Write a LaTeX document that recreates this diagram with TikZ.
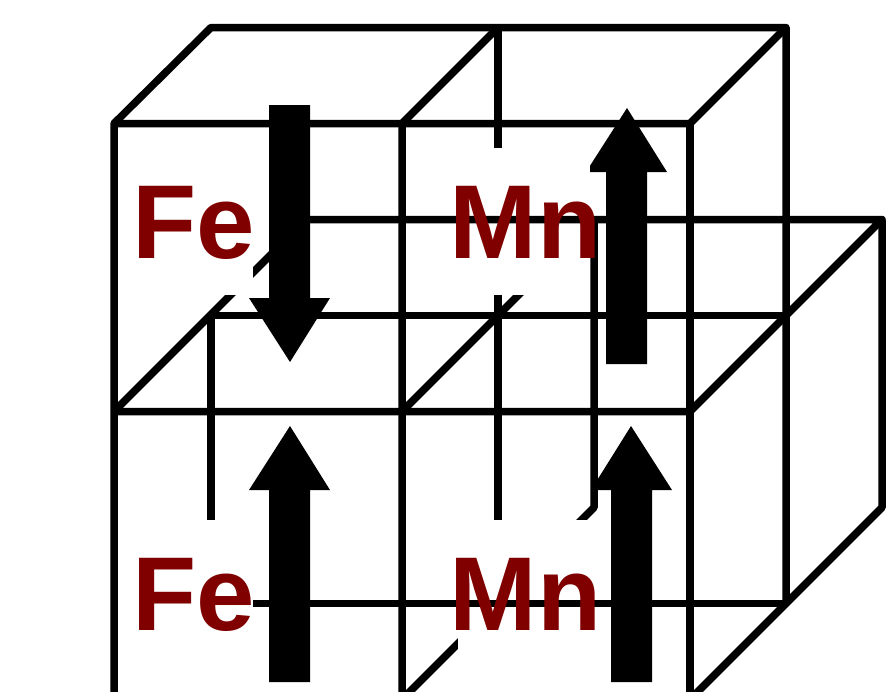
\documentclass[tikz,border=0pt]{standalone}
\usepackage{fontspec}
\setmainfont{Liberation Sans}
\definecolor{atomred}{HTML}{800000}
\tikzset{
  edge/.style={draw=black,line width=7.5pt,line cap=butt,line join=round,yshift=-0.5pt},
  spin/.style={fill=black,draw=none},
  halo/.style={fill=white,draw=none},
  atom/.style={text=atomred,font=\fontsize{105}{105}\selectfont\bfseries,inner sep=0pt,anchor=base west}
}
\begin{document}
\begin{tikzpicture}[x=1pt,y=-1pt]
\useasboundingbox (0,0) rectangle (891,691);
\begin{scope}
\clip (0,0) rectangle (891,691);
% hidden back lines
\draw[edge] (498,27) -- (498,520);
\draw[edge] (211,520) -- (211,315);
\draw[edge] (594,219) -- (594,507) -- (402,699);
\draw[edge] (690,699) -- (882,507) -- (882,219);
\draw[edge] (594,219) -- (402,411);
\draw[edge] (306,219) -- (114,411);
% spin arrows
\fill[spin] (269,105) -- (310,105) -- (310,298) -- (330,298) -- (290,362) -- (249,298) -- (269,298) -- cycle;
\fill[spin] (606,364) -- (647,364) -- (647,172) -- (667,172) -- (627,108) -- (586,172) -- (606,172) -- cycle;
\fill[spin] (269,682) -- (310,682) -- (310,490) -- (330,490) -- (290,426) -- (249,490) -- (269,490) -- cycle;
\fill[spin] (611,682) -- (652,682) -- (652,490) -- (672,490) -- (631,426) -- (591,490) -- (611,490) -- cycle;
% white boxes behind labels
\fill[halo] (118,148) rectangle (253,295);
\fill[halo] (458,148) rectangle (590,295);
\fill[halo] (118,520) rectangle (253,695);
\fill[halo] (458,520) rectangle (590,655);
% front lines
\draw[edge] (114,699) -- (114,123) -- (211,27) -- (786,27) -- (786,603);
\draw[edge] (114,123) -- (690,123) -- (786,27);
\draw[edge] (402,699) -- (402,123) -- (498,27);
\draw[edge] (690,699) -- (690,123);
\draw[edge] (114,411) -- (690,411) -- (882,219) -- (270,219);
\draw[edge] (211,315) -- (786,315);
\draw[edge] (253,603) -- (786,603);
% arrow shafts stay on top of lines
\fill[spin] (269,105) rectangle (310,298);
\fill[spin] (606,172) rectangle (647,364);
\fill[spin] (269,490) rectangle (310,682);
\fill[spin] (611,490) rectangle (652,682);
% labels
\node[atom] (fe1) at (132.5,258.5) {Fe};
\node[atom] (mn1) at (449.5,258.5) {Mn};
\node[atom] (fe2) at (132.5,630.5) {Fe};
\node[atom] (mn2) at (449.5,630.5) {Mn};
\end{scope}
\end{tikzpicture}
\end{document}
